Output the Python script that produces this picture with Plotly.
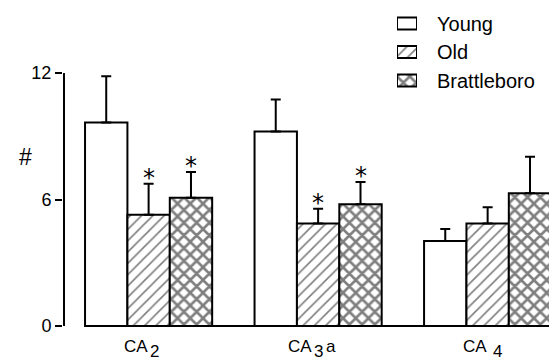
import plotly.graph_objects as go

label_main = ["CA", "CA", "CA"]
label_sub = ["2", "3", "4"]
label_tail = ["", "a", ""]
series = ["Young", "Old", "Brattleboro"]
young = [9.65, 9.23, 4.03]
young_err = [2.2, 1.52, 0.57]
old = [5.28, 4.86, 4.86]
old_err = [1.47, 0.70, 0.77]
brat = [6.08, 5.77, 6.30]
brat_err = [1.22, 1.06, 1.73]
star_old = [True, True, False]
star_brat = [True, True, False]
yticks = [0, 6, 12]

FONT = "Liberation Sans"
xs = [0, 1, 2]
patterns = [("", 8, 0.2), ("/", 8, 0.2), ("x", 9, 0.5)]

def pat(i):
    s, size, sol = patterns[i]
    return dict(shape=s, fgcolor="black", bgcolor="white", size=size, solidity=sol,
                fillmode="overlay")

fig = go.Figure()

for i, (vals, errs) in enumerate([(young, young_err), (old, old_err), (brat, brat_err)]):
    fig.add_trace(go.Bar(
        x=xs, y=vals, name=series[i], showlegend=False,
        marker=dict(color="white", line=dict(color="black", width=2), pattern=pat(i)),
        error_y=dict(type="data", array=errs, arrayminus=[0] * len(errs), symmetric=False,
                     color="black", thickness=2, width=5),
    ))

# legend swatches (on an auxiliary axis measured in pixels from the top)
legend_rows = [23.5, 52, 80.5]
for i in range(3):
    fig.add_trace(go.Bar(
        x=[1], y=[legend_rows[i]], orientation="h", width=12, xaxis="x2", yaxis="y2",
        showlegend=False, hoverinfo="skip",
        marker=dict(color="white", line=dict(color="black", width=2), pattern=pat(i)),
    ))

ann = []
for i in range(3):
    ann.append(dict(xref="paper", yref="y2", x=0.7654, y=legend_rows[i], text=series[i],
                    showarrow=False, xanchor="left", yanchor="middle",
                    font=dict(family=FONT, size=20, color="black")))
star_font = dict(family="DejaVu Sans", size=24, color="black")
for i in range(3):
    if star_old[i]:
        ann.append(dict(x=i, y=old[i] + old_err[i], text="*", showarrow=False,
                        yanchor="middle", yshift=6, font=star_font))
    if star_brat[i]:
        ann.append(dict(x=i + 0.25, y=brat[i] + brat_err[i], text="*", showarrow=False,
                        yanchor="middle", yshift=6, font=star_font))
ann.append(dict(xref="paper", x=-0.094, y=8.04, text="#", showarrow=False,
                font=dict(family=FONT, size=23, color="black")))

# category labels: main text, subscript, tail (pixel offsets from the category centre)
main_dx = [-12.4, -18.6, -12.2]
sub_dx = [6.0, 0.2, 10.0]
tail_dx = [0, 13.2, 0]
lab_font = dict(family=FONT, size=17, color="black")
sub_font = dict(family=FONT, size=17, color="black")
for i in range(3):
    ann.append(dict(x=xs[i], yref="paper", y=0, text=label_main[i], showarrow=False,
                    xshift=main_dx[i], yanchor="top", yshift=-4.6, font=lab_font))
    ann.append(dict(x=xs[i], yref="paper", y=0, text=label_sub[i], showarrow=False,
                    xshift=sub_dx[i], yanchor="top", yshift=-10.5, borderpad=0,
                    font=sub_font))
    if label_tail[i]:
        ann.append(dict(x=xs[i], yref="paper", y=0, text=label_tail[i], showarrow=False,
                        xshift=tail_dx[i], yanchor="top", yshift=-4.6, font=lab_font))

shapes = [
    dict(type="line", xref="x", yref="y", x0=-0.499, x1=-0.499, y0=0, y1=12,
         line=dict(color="black", width=2)),
    dict(type="line", xref="x", yref="y", x0=-0.375, x1=2.4, y0=0, y1=0,
         line=dict(color="black", width=2)),
]

fig.update_layout(
    width=549, height=360,
    margin=dict(l=63, r=0, t=0, b=30),
    plot_bgcolor="white", paper_bgcolor="white",
    barmode="group", bargap=0.25, bargroupgap=0,
    showlegend=False,
    xaxis=dict(range=[-0.505, 2.362], tickvals=xs, showticklabels=False, showgrid=False,
               zeroline=False, showline=False, ticks=""),
    yaxis=dict(range=[-0.19, 15.465], tickvals=yticks, showgrid=False, zeroline=False,
               showline=False, ticks="outside", ticklen=7, tickwidth=2, tickcolor="black",
               tickfont=dict(family=FONT, size=18, color="black")),
    xaxis2=dict(domain=[(397 - 63) / 486, (417 - 63) / 486], range=[0, 1], anchor="y2",
                visible=False, fixedrange=True),
    yaxis2=dict(domain=[0, 1], range=[330, 0], anchor="x2", visible=False, fixedrange=True),
    annotations=ann, shapes=shapes,
)

fig.write_html("out.html", config={"displayModeBar": False},
               post_script="document.body.style.margin='0px';")
